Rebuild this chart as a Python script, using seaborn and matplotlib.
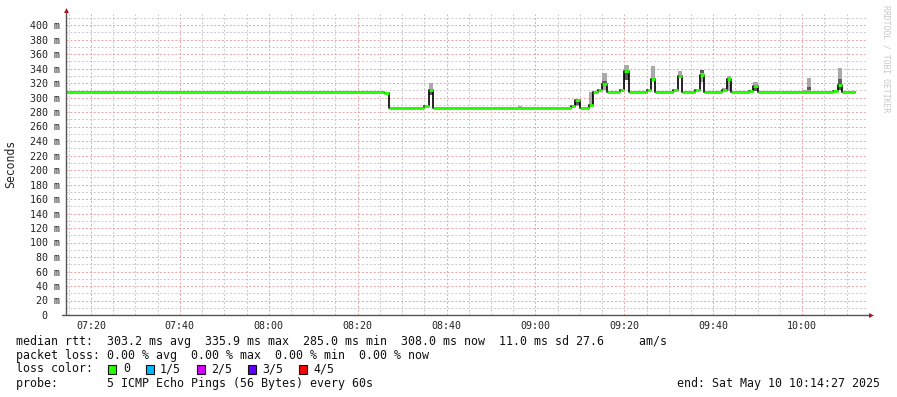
import matplotlib
matplotlib.use("Agg")
import matplotlib.pyplot as plt
from matplotlib.patches import Rectangle
import numpy as np
import pandas as pd
import seaborn as sns

# ---------------- data ----------------
step_start = ["07:14", "08:26", "08:27", "08:35", "08:36", "08:37", "09:08", "09:09",
              "09:10", "09:12", "09:13", "09:14", "09:15", "09:16", "09:19", "09:20",
              "09:21", "09:25", "09:26", "09:27", "09:31", "09:32", "09:33", "09:36",
              "09:37", "09:38", "09:42", "09:43", "09:44", "09:48", "09:49", "09:50",
              "10:07", "10:08", "10:09"]
median_ms = [308, 306, 285, 288, 310, 285, 288, 296,
             285, 289, 308, 310, 319, 308, 311, 336,
             308, 311, 326, 308, 310, 330, 308, 310,
             331, 308, 310, 325, 308, 309, 316, 308,
             309, 317, 308]
data_end = "10:12"

smoke_time = ["08:36", "08:56", "09:09", "09:12", "09:15", "09:20", "09:26", "09:32",
              "09:37", "09:42", "09:43", "09:49", "10:00", "10:01", "10:07", "10:08"]
smoke_lo = [303, 285, 288, 290, 310, 324, 324, 328, 322, 307, 309, 309, 308, 308, 307, 310]
smoke_hi = [320, 288, 298, 308, 334, 345, 343, 337, 338, 313, 330, 322, 311, 327, 311, 341]

dark_time = ["08:36", "09:09", "09:15", "09:20", "09:37", "09:49", "10:01", "10:08"]
dark_lo = [303, 289, 316, 324, 334, 309, 310, 310]
dark_hi = [310, 295, 323, 334, 338, 315, 315, 326]

y_ticks = list(range(0, 401, 20))
x_tick_labels = ["07:20", "07:40", "08:00", "08:20", "08:40", "09:00", "09:20", "09:40", "10:00"]

loss_labels = ["0", "1/5", "2/5", "3/5", "4/5"]
loss_colors = ["#26ff00", "#00b8ff", "#d400ff", "#5e00ff", "#ff0000"]

legend_lines = [
    "median rtt:  303.2 ms avg  335.9 ms max  285.0 ms min  308.0 ms now  11.0 ms sd 27.6     am/s",
    "packet loss: 0.00 % avg  0.00 % max  0.00 % min  0.00 % now",
    "loss color:",
    "probe:       5 ICMP Echo Pings (56 Bytes) every 60s",
]
end_text = "end: Sat May 10 10:14:27 2025"


def tmin(s):
    h, m = s.split(":")
    return int(h) * 60 + int(m)


# ---------------- figure ----------------
sns.set_theme(style="white")
plt.rcParams["font.family"] = ["DejaVu Sans Mono"]

W, H = 897, 397
fig = plt.figure(figsize=(W / 100, H / 100), dpi=100)
fig.patch.set_facecolor("white")

x0_px, x1_px = 66.3, 866.3
y_bot_px, y_top_px = 315, 13.5
ax = fig.add_axes([x0_px / W, (H - y_bot_px) / H, (x1_px - x0_px) / W, (y_bot_px - y_top_px) / H])
ax.set_facecolor("white")

xstart = 7 * 60 + 14 + 27 / 60
xend = xstart + 180
ax.set_xlim(xstart, xend)
ymax = (y_bot_px - y_top_px) / 0.725
ax.set_ylim(0, ymax)

# grid
xt = [tmin(s) for s in x_tick_labels]
ax.set_xticks(xt)
ax.set_xticklabels(x_tick_labels)
ax.set_xticks(np.arange(435, 614, 5), minor=True)
ax.set_yticks(y_ticks)
ax.set_yticks(np.arange(10, 420, 20), minor=True)
ylab = [f"{v:>3d} m" if v else "  0" for v in y_ticks]
ax.set_yticklabels(ylab)
for lab in ax.get_yticklabels():
    lab.set_horizontalalignment("left")

ax.grid(which="major", color="#e8a4a4", linestyle=(0, (2, 2)), linewidth=0.7)
ax.grid(which="minor", color="#c8c8c8", linestyle=(0, (2, 2)), linewidth=0.7)
ax.set_axisbelow(True)

ax.tick_params(axis="both", which="both", direction="inout", color="#707070", width=0.7)
ax.tick_params(axis="both", which="major", length=3)
ax.tick_params(axis="both", which="minor", length=3)
ax.tick_params(axis="y", which="major", pad=24.6, labelsize=7.2, labelcolor="#222222")
ax.tick_params(axis="x", which="major", pad=2.5, labelsize=7.2, labelcolor="#222222")

for sp in ax.spines.values():
    sp.set_visible(False)

# smoke
s_x = [tmin(s) for s in smoke_time]
ax.bar(s_x, np.array(smoke_hi) - np.array(smoke_lo), bottom=smoke_lo, width=1.0,
       align="edge", color="#a9a9a9", linewidth=0, zorder=2)
d_x = [tmin(s) for s in dark_time]
ax.bar(d_x, np.array(dark_hi) - np.array(dark_lo), bottom=dark_lo, width=1.0,
       align="edge", color="#5c5c5c", linewidth=0, zorder=2)

# median step line
starts = [tmin(s) for s in step_start]
ends = starts[1:] + [tmin(data_end)]
df = pd.DataFrame({"t": starts + [tmin(data_end)], "rtt": median_ms + [median_ms[-1]]})
sns.lineplot(data=df, x="t", y="rtt", drawstyle="steps-post", color="black",
             linewidth=1.2, ax=ax, zorder=3, legend=False)
ax.hlines(median_ms, starts, ends, color="#26ff00", linewidth=2.1, zorder=4)
ax.set_xlabel("")
ax.set_ylabel("")

# axis lines and arrows
ax.plot([-4 / 800, 1.0045], [0, 0], transform=ax.transAxes, clip_on=False,
        color="#555555", lw=1.0, zorder=5)
ax.plot([0, 0], [0, 1 + 2.5 / 301], transform=ax.transAxes, clip_on=False,
        color="#555555", lw=1.0, zorder=5)
ax.plot([1.0055], [0], marker=">", ms=3.5, color="#a01818", transform=ax.transAxes,
        clip_on=False, zorder=6, markeredgewidth=0)
ax.plot([0], [1 + 3.5 / 301], marker="^", ms=3.5, color="#a01818", transform=ax.transAxes,
        clip_on=False, zorder=6, markeredgewidth=0)

# y label
fig.text(11 / W, 1 - 164 / H, "Seconds", rotation=90, ha="center", va="center",
         fontsize=8.3, color="#222222")

# watermark
fig.text(886 / W, 1 - 5 / H, "RRDTOOL / TOBI OETIKER", rotation=270, ha="center", va="top",
         fontsize=5.9, color="#c8c8c8")

# legend text
fs = 8.37
ys = [341, 355, 369, 383]
for line, yy in zip(legend_lines, ys):
    fig.text(16 / W, 1 - yy / H, line, ha="left", va="center", fontsize=fs, color="#111111")
fig.text(880 / W, 1 - 383 / H, end_text, ha="right", va="center", fontsize=fs, color="#111111")

box_x = [108, 145.5, 196.5, 247.5, 298.5]
txt_x = [123, 160, 211, 262, 313]
for bx, tx, lab, col in zip(box_x, txt_x, loss_labels, loss_colors):
    fig.patches.append(Rectangle((bx / W, 1 - 373.5 / H), 8 / W, 8.5 / H,
                                 transform=fig.transFigure, facecolor=col,
                                 edgecolor="#111111", linewidth=0.8))
    fig.text(tx / W, 1 - 369 / H, lab, ha="left", va="center", fontsize=fs, color="#111111")

fig.savefig("out.png", dpi=100, facecolor="white")
